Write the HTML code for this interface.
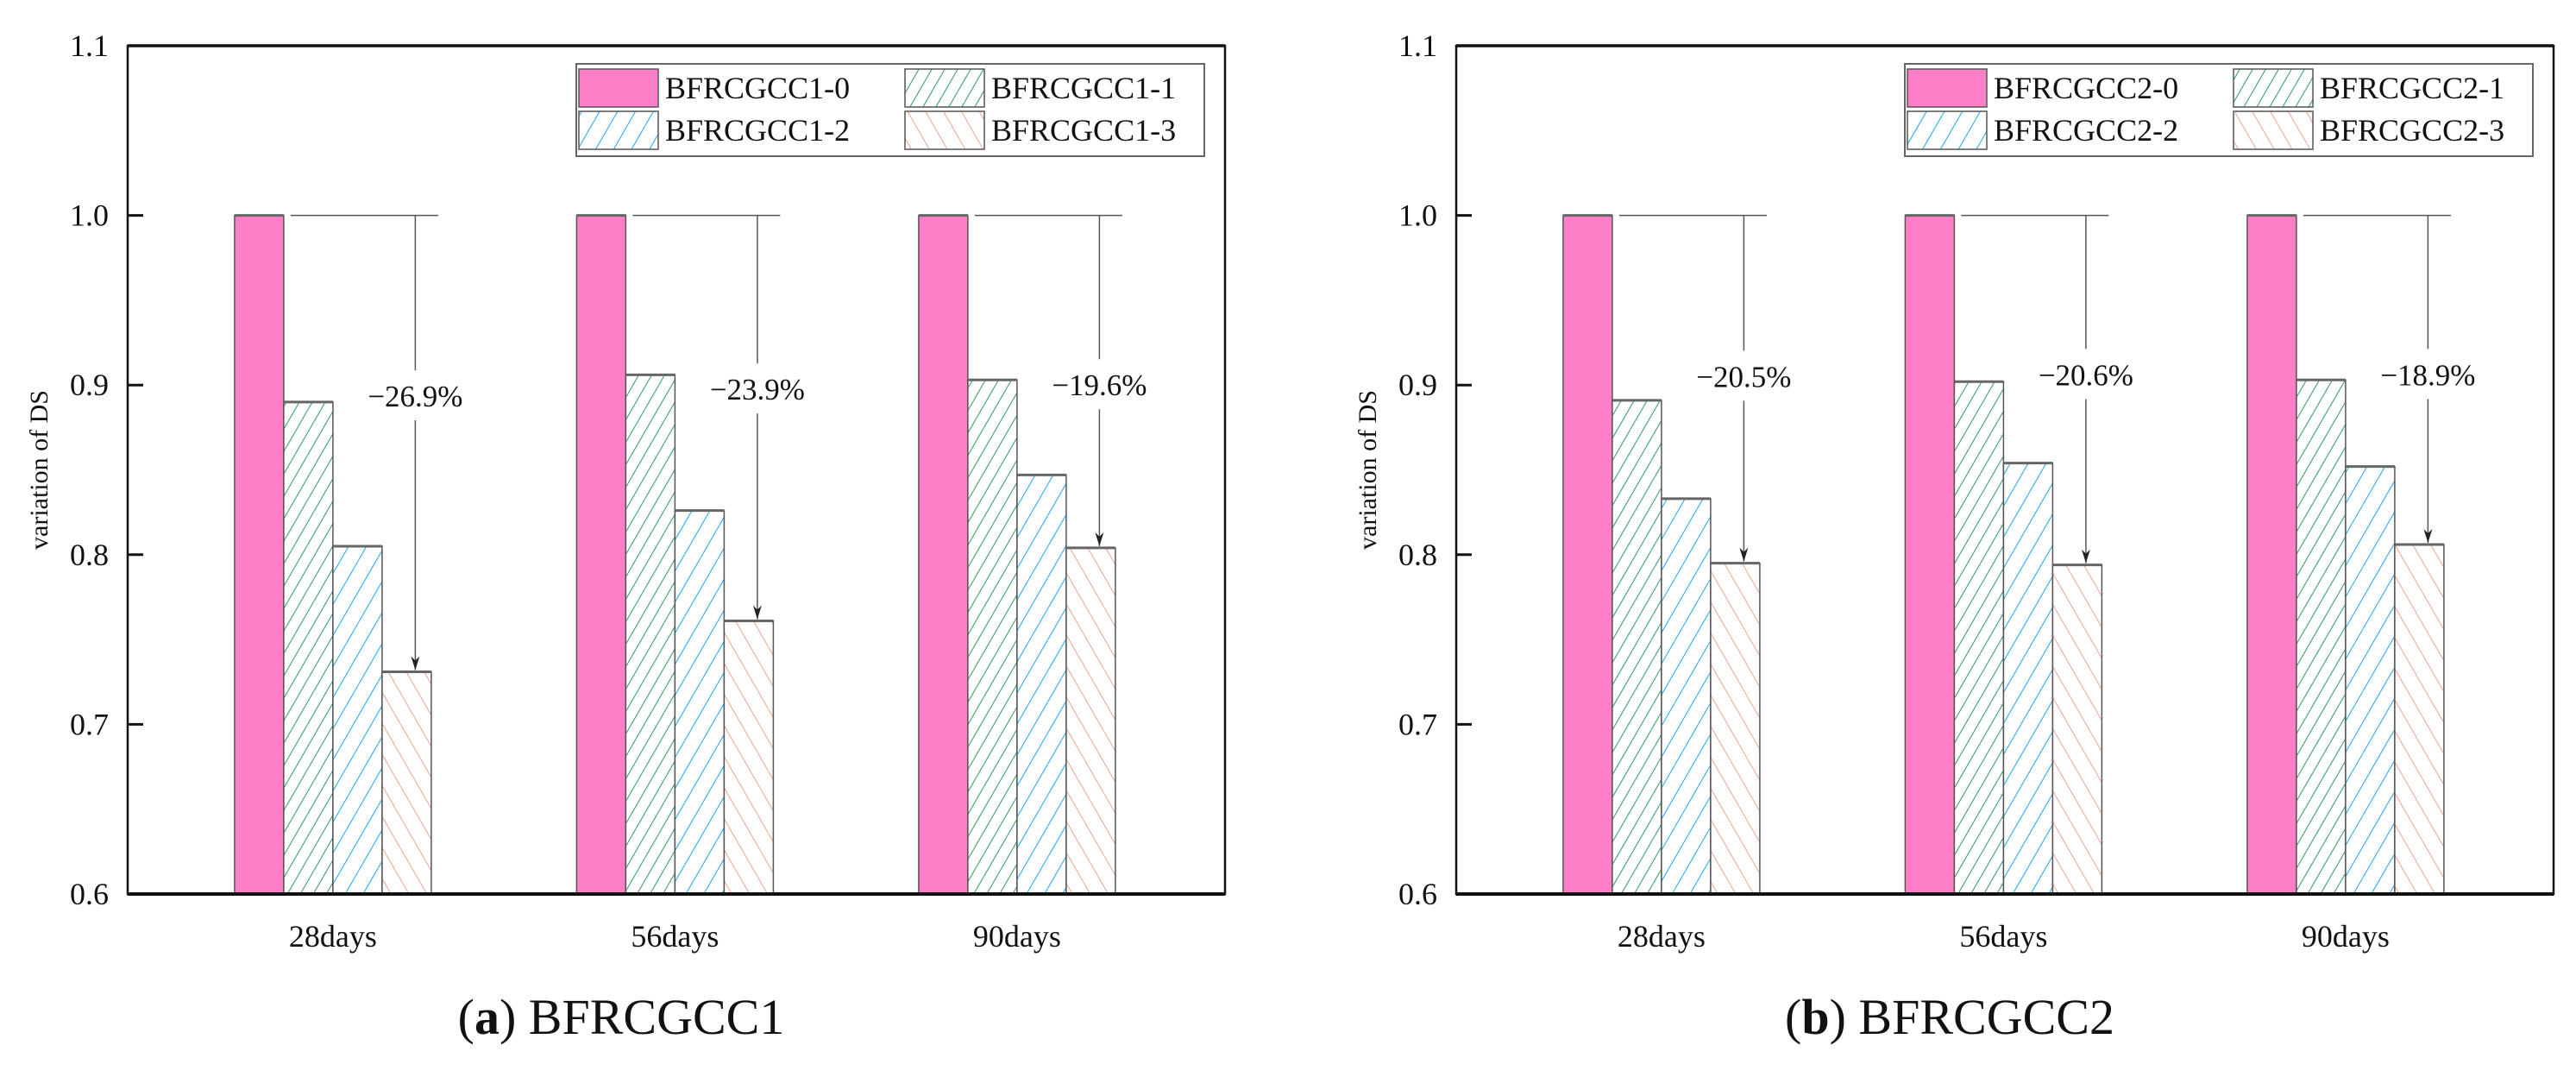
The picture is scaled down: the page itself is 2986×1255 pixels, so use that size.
<!DOCTYPE html>
<html><head><meta charset="utf-8"><style>
html,body{margin:0;padding:0;background:#fff;}
svg{display:block;}
svg text{font-family:"Liberation Serif",serif;}
</style></head><body>
<svg id="svg" width="2986" height="1255" viewBox="0 0 2986 1255" xmlns="http://www.w3.org/2000/svg">
<defs>
<pattern id="pg" patternUnits="userSpaceOnUse" width="13" height="13" patternTransform="rotate(30)"><rect width="13" height="13" fill="#fff"/><line x1="0" y1="0" x2="0" y2="13" stroke="#2f9a5c" stroke-width="2"/></pattern>
<pattern id="pb" patternUnits="userSpaceOnUse" width="18" height="18" patternTransform="rotate(30)"><rect width="18" height="18" fill="#fff"/><line x1="0" y1="0" x2="0" y2="18" stroke="#1aa6f2" stroke-width="2"/></pattern>
<pattern id="po" patternUnits="userSpaceOnUse" width="18" height="18" patternTransform="rotate(-30)"><rect width="18" height="18" fill="#fff"/><line x1="0" y1="0" x2="0" y2="18" stroke="#f2a28c" stroke-width="2"/></pattern>
<marker id="arr" markerWidth="16" markerHeight="10" refX="16" refY="5" orient="auto" markerUnits="userSpaceOnUse" viewBox="0 0 16 10"><path d="M0,0 L16,5 L0,10 L5,5 Z" fill="#222"/></marker>
</defs>
</svg>
<script>
const categories = ["28days", "56days", "90days"];
const yTicks = [0.6, 0.7, 0.8, 0.9, 1.0, 1.1];
const yTickLabels = ["0.6", "0.7", "0.8", "0.9", "1.0", "1.1"];
const seriesNames1 = ["BFRCGCC1-0", "BFRCGCC1-1", "BFRCGCC1-2", "BFRCGCC1-3"];
const seriesNames2 = ["BFRCGCC2-0", "BFRCGCC2-1", "BFRCGCC2-2", "BFRCGCC2-3"];
const c1s0 = [1.0, 1.0, 1.0];
const c1s1 = [0.890, 0.906, 0.903];
const c1s2 = [0.805, 0.826, 0.847];
const c1s3 = [0.731, 0.761, 0.804];
const c2s0 = [1.0, 1.0, 1.0];
const c2s1 = [0.891, 0.902, 0.903];
const c2s2 = [0.833, 0.854, 0.852];
const c2s3 = [0.795, 0.794, 0.806];
const labels1 = ["\u221226.9%", "\u221223.9%", "\u221219.6%"];
const labels2 = ["\u221220.5%", "\u221220.6%", "\u221218.9%"];
const labelY1 = [0.8935, 0.8975, 0.9];
const labelY2 = [0.905, 0.906, 0.906];

const NS = "http://www.w3.org/2000/svg";
const svg = document.getElementById('svg');
function mk(tag, attrs, parent) {
  const e = document.createElementNS(NS, tag);
  for (const k in attrs) e.setAttribute(k, attrs[k]);
  (parent || svg).appendChild(e);
  return e;
}
const fills = ["#ff7ec8", "url(#pg)", "url(#pb)", "url(#po)"];

function chart(ox, series, names, labels, labelY, caption, capLetter, key) {
  const L = ox, R = ox + 1272, T = 53, B = 1036;
  const yS = v => B - (v - 0.6) / 0.5 * (B - T);
  const xS = c => L + (c + 0.6) * 396.5;
  const bw = 57;
  const g = mk('g', {});
  
  
  series.forEach((vals, si) => {
    vals.forEach((v, ci) => {
      const x = xS(ci) - 2 * bw + si * bw;
      const r = mk('rect', {x: x, y: yS(v), width: bw, height: B - yS(v), fill: fills[si], stroke: '#555', 'stroke-width': 1.5}, g);
      
      
      mk('line', {x1: x, x2: x + bw, y1: yS(v), y2: yS(v), stroke: '#666', 'stroke-width': 3}, g);
    });
  });
  categories.forEach((c, ci) => {
    const pinkR = xS(ci) - bw;
    const oC = xS(ci) + 1.5 * bw + 10;
    const top = yS(series[0][ci]);
    const bot = yS(series[3][ci]);
    const ly = yS(labelY[ci]);
    const a = mk('g', {}, g);
    
    
    mk('line', {x1: pinkR + 8, x2: xS(ci) + 2 * bw + 8, y1: top, y2: top, stroke: '#555', 'stroke-width': 1.5}, a);
    mk('line', {x1: oC, x2: oC, y1: top, y2: ly - 30, stroke: '#555', 'stroke-width': 1.5}, a);
    mk('line', {x1: oC, x2: oC, y1: ly + 28, y2: bot - 2, stroke: '#555', 'stroke-width': 1.5, 'marker-end': 'url(#arr)'}, a);
    const t = mk('text', {x: oC, y: ly + 12, 'font-size': 35, 'text-anchor': 'middle', fill: '#111'}, a);
    t.textContent = labels[ci];
  });
  const fr = mk('rect', {x: L, y: T, width: R - L, height: B - T, fill: 'none', stroke: '#111', 'stroke-width': 2.5}, g);
  
  
  mk('line', {x1: L, x2: R, y1: B, y2: B, stroke: '#111', 'stroke-width': 4}, g);
  mk('line', {x1: L, x2: R, y1: T, y2: T, stroke: '#111', 'stroke-width': 3.5}, g);
  yTicks.forEach((v, i) => {
    mk('line', {x1: L, x2: L + 18, y1: yS(v), y2: yS(v), stroke: '#111', 'stroke-width': 3}, g);
    const t = mk('text', {x: L - 22, y: yS(v) + 12, 'font-size': 36, 'text-anchor': 'end', fill: '#111'}, g);
    
    
    t.textContent = yTickLabels[i];
  });
  categories.forEach((c, ci) => {
    const t = mk('text', {x: xS(ci), y: 1097, 'font-size': 36, 'text-anchor': 'middle', fill: '#111'}, g);
    
    
    t.textContent = c;
  });
  const yt = mk('text', {x: 0, y: 0, 'font-size': 30, 'text-anchor': 'middle', fill: '#111', transform: 'translate(' + (L - 93) + ',' + ((T + B) / 2) + ') rotate(-90)'}, g);
  
  
  yt.textContent = 'variation of DS';
  const lg = mk('g', {}, g);
  
  
  mk('rect', {x: L + 520, y: 74, width: 728, height: 107, fill: '#fff', stroke: '#666', 'stroke-width': 2}, lg);
  names.forEach((n, i) => {
    const col = i % 2, row = Math.floor(i / 2);
    const sx = L + 523 + col * 378, sy = 80 + row * 49;
    const e = mk('g', {}, lg);
    
    
    mk('rect', {x: sx, y: sy, width: 92, height: 44, fill: fills[i], stroke: '#555', 'stroke-width': 1.5}, e);
    const t = mk('text', {x: sx + 100, y: sy + 34, 'font-size': 36, fill: '#111'}, e);
    t.textContent = n;
  });
  const cap = mk('text', {x: L + 572, y: 1198, 'font-size': 58, 'text-anchor': 'middle', fill: '#111'});
  
  
  const s1 = mk('tspan', {}, cap); s1.textContent = '(';
  const s2 = mk('tspan', {'font-weight': 'bold'}, cap); s2.textContent = capLetter;
  const s3 = mk('tspan', {}, cap); s3.textContent = ') ' + caption;
}
chart(148, [c1s0, c1s1, c1s2, c1s3], seriesNames1, labels1, labelY1, 'BFRCGCC1', 'a', 'bfrcgcc1');
chart(1688, [c2s0, c2s1, c2s2, c2s3], seriesNames2, labels2, labelY2, 'BFRCGCC2', 'b', 'bfrcgcc2');
</script>
</body></html>
